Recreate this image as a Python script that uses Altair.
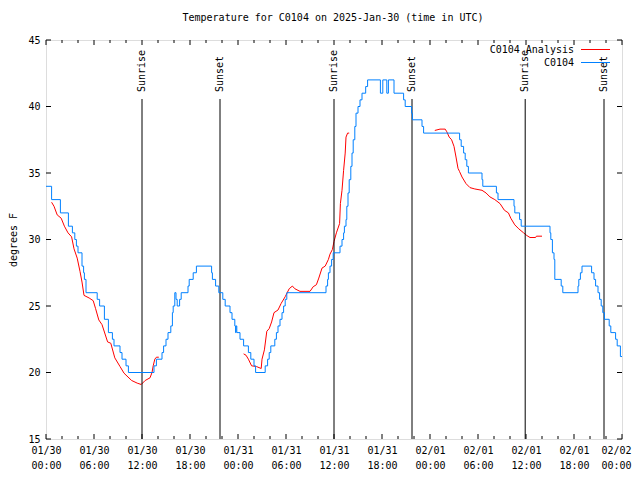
import json
import altair as alt
import pandas as pd

# ---- observed series (hours since 2025-01-30 00:00 UTC, deg F) ----
obs_hours = [0.0, 0.7, 1.8, 2.8, 3.3, 3.6, 3.8, 4.0, 4.5, 4.7, 4.8, 5.0, 6.4, 6.7, 7.3, 7.8, 8.3, 8.5,
             9.25, 9.5, 10.0, 10.3, 13.5, 13.8, 14.5, 14.7, 15.0, 15.25, 15.6, 15.8, 15.9, 16.1, 16.25,
             16.4, 16.7, 16.9, 17.75, 17.9, 18.4, 18.8, 20.7, 20.8, 21.2, 21.6, 22.1, 22.4, 23.0, 23.25,
             23.6, 23.7, 23.75, 23.85, 24.25, 24.7, 25.3, 25.6, 26.0, 26.2, 27.4, 27.7, 27.9, 28.1, 28.6,
             28.8, 29.0, 29.25, 29.5, 29.7, 29.9, 30.1, 35.0, 35.2, 35.3, 35.5, 35.7, 35.9, 36.75, 37.0,
             37.2, 37.3, 37.5, 37.6, 37.75, 37.9, 38.1, 38.25, 38.4, 38.6, 38.75, 39.0, 39.25, 39.5, 39.96,
             40.2, 41.8, 42.1, 42.6, 42.8, 43.5, 44.7, 44.9, 45.7, 45.8, 47.0, 47.2, 51.7, 51.9, 52.2,
             52.4, 52.6, 52.8, 54.5, 54.6, 56.3, 56.5, 58.5, 58.6, 59.2, 59.4, 63.0, 63.1, 63.3, 63.5,
             63.6, 64.4, 64.6, 66.5, 66.6, 66.8, 67.0, 68.2, 68.5, 68.7, 69.0, 69.2, 69.4, 69.6, 69.8,
             70.4, 70.6, 71.2, 71.4, 71.8, 72.0]
obs_temps = [34, 33, 32, 31, 30.5, 30, 29.5, 29, 28, 27.5, 27, 26, 25.5, 25, 24, 23, 22.5, 22,
             21.5, 21, 20.5, 20, 20.5, 21, 21.5, 22, 22.5, 23, 23.5, 24.5, 25, 26, 25.5,
             25, 25.5, 26, 26.5, 27, 27.5, 28, 27.5, 27, 26.5, 26, 25.5, 25, 24.5, 24,
             23.5, 23, 23.5, 23, 22.5, 22, 21.5, 21, 20.5, 20, 20.5, 21, 21.5, 22, 22.5,
             23, 23.5, 24, 24.5, 25, 25.5, 26, 26.5, 27, 27.5, 28, 28.5, 29, 29.5, 30,
             30.5, 31, 31.5, 32.5, 33.5, 34.5, 35.5, 36.5, 37.5, 38.5, 39.5, 40, 40.5, 41, 41.5,
             42, 41, 42, 41, 42, 41, 40.5, 40, 39.5, 39, 38.5, 38, 37.5, 37, 36.5,
             36, 35.5, 35, 34.5, 34, 33.5, 33, 32.5, 32, 31.5, 31, 30.5, 30, 29, 28.5,
             27, 26.5, 26, 26.5, 27, 27.5, 28, 27.5, 27, 26.5, 26, 25.5, 25, 24.5, 24,
             23.5, 23, 22.5, 22, 21.2, 21.2]

# ---- analysis series, three segments ----
ana1_hours = [0.7, 1.0, 1.4, 1.9, 2.3, 2.75, 3.2, 3.5, 3.9, 4.25, 4.5, 4.75, 5.4, 5.9, 6.2, 6.6, 7.0,
              7.7, 8.1, 8.6, 9.25, 9.75, 10.7, 11.4, 11.9, 12.4, 13.0, 13.25, 13.4, 13.6, 13.8, 14.1]
ana1_temps = [32.8, 32.5, 31.85, 31.6, 31.0, 30.5, 30.2, 29.3, 28.6, 27.6, 26.8, 25.8, 25.6, 25.4,
              24.8, 23.95, 23.6, 22.3, 22.2, 21.1, 20.45, 19.95, 19.4, 19.2, 19.1, 19.4, 19.6, 20.0,
              20.5, 21.0, 21.15, 21.15]
ana2_hours = [24.7, 25.0, 25.3, 25.7, 26.3, 26.9, 27.0, 27.3, 27.6, 27.9, 28.2, 28.5, 29.0, 29.4,
              29.9, 30.4, 30.8, 31.1, 31.75, 33.0, 33.4, 33.8, 34.1, 34.5, 34.9, 35.3, 35.5, 35.8,
              36.0, 36.3, 36.7, 36.8, 37.0, 37.2, 37.4, 37.5, 37.7, 37.9]
ana2_temps = [21.4, 21.3, 21.0, 20.5, 20.45, 20.3, 21.0, 21.7, 23.1, 23.3, 23.8, 24.5, 24.7, 25.2,
              25.7, 26.3, 26.5, 26.3, 26.1, 26.1, 26.45, 26.6, 27.1, 27.85, 28.0, 28.5, 28.9, 29.25,
              29.85, 30.5, 31.2, 32.7, 33.7, 35.2, 36.5, 37.7, 38.0, 38.0]
ana3_hours = [48.6, 49.25, 49.9, 50.1, 50.4, 50.7, 51.0, 51.25, 51.5, 51.7, 52.0, 52.5, 53.0, 53.6,
              54.5, 55.0, 55.5, 56.1, 56.75, 57.3, 57.8, 58.1, 58.6, 59.1, 59.7, 60.1, 60.5, 61.2,
              61.3, 62.0]
ana3_temps = [38.2, 38.3, 38.3, 38.1, 37.7, 37.5, 37.0, 36.2, 35.35, 35.1, 34.7, 34.2, 33.9, 33.8,
              33.7, 33.5, 33.2, 33.0, 32.7, 32.2, 32.0, 31.6, 31.1, 30.8, 30.5, 30.3, 30.15, 30.15,
              30.25, 30.25]

# ---- sun events ----
event_hours = [12.0, 21.75, 36.0, 45.75, 59.9, 69.75]
event_labels = ["Sunrise", "Sunset", "Sunrise", "Sunset", "Sunrise", "Sunset"]

# ---- axes ----
x_major = [0, 6, 12, 18, 24, 30, 36, 42, 48, 54, 60, 66, 72]
x_minor = [2, 4, 8, 10, 14, 16, 20, 22, 26, 28, 32, 34, 38, 40, 44, 46, 50, 52, 56, 58, 62, 64, 68, 70]
date_labels = ["01/30", "01/30", "01/30", "01/30", "01/31", "01/31", "01/31", "01/31",
               "02/01", "02/01", "02/01", "02/01", "02/02"]
time_labels = ["00:00", "06:00", "12:00", "18:00", "00:00", "06:00", "12:00", "18:00",
               "00:00", "06:00", "12:00", "18:00", "00:00"]
y_ticks = [15, 20, 25, 30, 35, 40, 45]

title_text = "Temperature for C0104 on 2025-Jan-30 (time in UTC)"
legend_names = ["C0104 Analysis", "C0104"]
legend_colors = ["#ff0000", "#0080ff"]

FONT = "DejaVu Sans Mono"
W, H = 576, 399

obs = pd.DataFrame({"h": obs_hours, "t": obs_temps})
ana = pd.concat([
    pd.DataFrame({"h": ana1_hours, "t": ana1_temps, "seg": 1}),
    pd.DataFrame({"h": ana2_hours, "t": ana2_temps, "seg": 2}),
    pd.DataFrame({"h": ana3_hours, "t": ana3_temps, "seg": 3}),
])
events = pd.DataFrame({"h": event_hours, "label": event_labels})
xmaj = pd.DataFrame({"h": x_major})
xmin = pd.DataFrame({"h": x_minor})
yt = pd.DataFrame({"t": y_ticks})

label_expr = (f"[{json.dumps(date_labels)}[round(datum.value/6)], "
              f"{json.dumps(time_labels)}[round(datum.value/6)]]")

xscale = alt.Scale(domain=[0, 72], nice=False, zero=False)
yscale = alt.Scale(domain=[15, 45], nice=False, zero=False)

X = alt.X("h:Q", scale=xscale,
          axis=alt.Axis(values=x_major, labelExpr=label_expr, tickSize=0, domain=False, grid=False,
                        labelFont=FONT, labelFontSize=10, labelPadding=6, labelLineHeight=15,
                        labelColor="black", labelBaseline="top", title=None, labelOverlap=False,
                        labelFlush=False,
                        labelOffset={"condition": {"test": "datum.value >= 72", "value": -6},
                                     "value": 0}))
Y = alt.Y("t:Q", scale=yscale,
          axis=alt.Axis(values=y_ticks, tickSize=0, domain=False, grid=False, labelFont=FONT,
                        labelFontSize=10, labelPadding=6, labelColor="black", title="degrees F",
                        titleFont=FONT, titleFontSize=10, titleFontWeight="normal", titleColor="black",
                        titleX=-33, titleBaseline="middle", titleAngle=270))
Xn = alt.X("h:Q", scale=xscale)
Yn = alt.Y("t:Q", scale=yscale)

red = alt.Chart(ana).mark_line(color="#ff0000", strokeWidth=1).encode(x=X, y=Y, detail="seg:N")
blue = alt.Chart(obs).mark_line(color="#0080ff", strokeWidth=1, interpolate="step-after").encode(
    x=Xn, y=Yn)

ev_rule = alt.Chart(events).mark_rule(color="black", strokeWidth=1).encode(
    x=Xn, y=alt.value(59), y2=alt.value(H))
ev_text = alt.Chart(events).mark_text(angle=270, align="left", baseline="middle", font=FONT,
                                      fontSize=10, color="black").encode(
    x=Xn, y=alt.value(52), text="label:N")

def xticks(df, y0, y1):
    return alt.Chart(df).mark_rule(color="black", strokeWidth=1).encode(
        x=Xn, y=alt.value(y0), y2=alt.value(y1))

def yticks(x0, x1):
    return alt.Chart(yt).mark_rule(color="black", strokeWidth=1).encode(
        y=Yn, x=alt.value(x0), x2=alt.value(x1))

ticks = [xticks(xmaj, H, H - 5), xticks(xmaj, 0, 5), xticks(xmin, H, H - 3), xticks(xmin, 0, 3),
         yticks(0, 5), yticks(W, W - 5)]

legend_layers = []
for i, (name, color) in enumerate(zip(legend_names, legend_colors)):
    ld = pd.DataFrame({"name": [name]})
    ypix = 9.5 + 13 * i
    legend_layers.append(alt.Chart(ld).mark_text(align="right", baseline="middle", font=FONT,
                                                 fontSize=10, color="black").encode(
        x=alt.value(528), y=alt.value(ypix), text="name:N"))
    legend_layers.append(alt.Chart(ld).mark_rule(strokeWidth=1, color=color).encode(
        x=alt.value(535), x2=alt.value(564), y=alt.value(ypix)))

title_layer = alt.Chart(pd.DataFrame({"txt": [title_text]})).mark_text(
    align="center", baseline="middle", font=FONT, fontSize=10, color="black").encode(
    x=alt.value(287), y=alt.value(-22), text="txt:N")

chart = alt.layer(red, ev_rule, ev_text, blue, *ticks, *legend_layers, title_layer).properties(
    width=W, height=H,
    padding={"left": 38, "top": 32, "right": 10, "bottom": 33},
    autosize=alt.AutoSizeParams(type="none"),
).configure_view(stroke="black", strokeWidth=1).configure(background="white")

chart.save("out.html", embed_options={"renderer": "svg", "actions": False})
